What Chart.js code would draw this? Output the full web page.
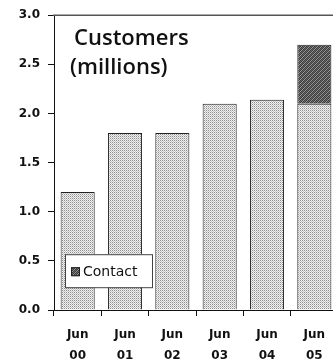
<!DOCTYPE html>
<html>
<head>
<meta charset="utf-8">
<script src="https://cdn.jsdelivr.net/npm/chart.js@4/dist/chart.umd.min.js"></script>
<style>
  html, body { margin: 0; padding: 0; background: #fff; overflow: hidden; }
  #wrap { width: 338px; height: 363px; }
</style>
</head>
<body>
<div id="wrap"><canvas id="chart" width="338" height="363"></canvas></div>
<script>
// Customers by year, millions
const years = [['Jun', '00'], ['Jun', '01'], ['Jun', '02'], ['Jun', '03'], ['Jun', '04'], ['Jun', '05']];
const baseCustomers = [1.2, 1.8, 1.8, 2.1, 2.14, 2.1];
const contactCustomers = [0, 0, 0, 0, 0, 0.6];
const yTicks = [0, 0.5, 1.0, 1.5, 2.0, 2.5, 3.0];

// light stipple fill for the main bars
function stipple() {
  const c = document.createElement('canvas');
  c.width = 2; c.height = 2;
  const g = c.getContext('2d');
  g.fillStyle = '#f0f0f0';
  g.fillRect(0, 0, 2, 2);
  g.fillStyle = '#8f8f8f';
  g.fillRect(0, 0, 1, 1);
  g.fillStyle = '#c4c4c4';
  g.fillRect(1, 1, 1, 1);
  return g.createPattern(c, 'repeat');
}

// dark diagonal hatch for the Contact segment
function hatch() {
  const c = document.createElement('canvas');
  c.width = 4; c.height = 4;
  const g = c.getContext('2d');
  g.fillStyle = '#3a3a3a';
  g.fillRect(0, 0, 4, 4);
  g.fillStyle = '#9a9a9a';
  for (let i = 0; i < 4; i++) g.fillRect(3 - i, i, 1, 1);
  g.fillStyle = '#6a6a6a';
  for (let i = 0; i < 4; i++) g.fillRect((5 - i) % 4, i, 1, 1);
  return g.createPattern(c, 'repeat');
}

const hatchFill = hatch();

// title and legend box drawn inside the plot
const overlay = {
  id: 'overlay',
  afterDraw(chart) {
    const ctx = chart.ctx;
    const a = chart.chartArea;
    ctx.save();
    // top frame line
    ctx.strokeStyle = '#555';
    ctx.lineWidth = 1.5;
    ctx.beginPath();
    ctx.moveTo(a.left - 1, a.top);
    ctx.lineTo(chart.width, a.top);
    ctx.stroke();

    ctx.fillStyle = '#111';
    ctx.font = '600 22px "Open Sans", sans-serif';
    ctx.textBaseline = 'middle';
    ctx.fillText('Customers', a.left + 20, a.top + 24);
    ctx.fillText('(millions)', a.left + 16, a.top + 53);

    // legend
    const lx = a.left + 11, ly = a.top + 239;
    ctx.fillStyle = '#fff';
    ctx.fillRect(lx, ly, 87, 33);
    ctx.strokeStyle = '#444';
    ctx.lineWidth = 1;
    ctx.strokeRect(lx + 0.5, ly + 0.5, 87, 33);
    ctx.fillStyle = hatchFill;
    ctx.fillRect(lx + 6, ly + 13, 9, 9);
    ctx.strokeStyle = '#222';
    ctx.strokeRect(lx + 6.5, ly + 13.5, 8, 8);
    ctx.fillStyle = '#111';
    ctx.font = '14px "DejaVu Sans", sans-serif';
    ctx.fillText('Contact', lx + 18, ly + 18);
    ctx.restore();
  }
};

new Chart(document.getElementById('chart').getContext('2d'), {
  type: 'bar',
  data: {
    labels: years,
    datasets: [
      {
        label: 'Customers',
        data: baseCustomers,
        backgroundColor: stipple(),
        borderColor: '#222',
        borderWidth: 1,
        borderSkipped: 'bottom'
      },
      {
        label: 'Contact',
        data: contactCustomers,
        backgroundColor: hatchFill,
        borderColor: '#222',
        borderWidth: 1,
        borderSkipped: 'bottom'
      }
    ]
  },
  options: {
    responsive: false,
    animation: false,
    layout: { padding: { top: 14, right: 0, left: 0, bottom: 0 } },
    plugins: {
      legend: { display: false },
      tooltip: { enabled: false }
    },
    scales: {
      x: {
        stacked: true,
        categoryPercentage: 1,
        barPercentage: 0.61,
        border: { color: '#111', width: 1 },
        grid: { offset: true, drawOnChartArea: false, tickLength: 6, color: '#111' },
        ticks: {
          color: '#111',
          font: { family: 'DejaVu Sans', size: 12, weight: 'bold', lineHeight: 1.75 },
          padding: 8,
          maxRotation: 0
        },
        afterFit(s) { s.height = 53; }
      },
      y: {
        stacked: true,
        min: 0,
        max: 3,
        afterBuildTicks(s) { s.ticks = yTicks.map(v => ({ value: v })); },
        border: { color: '#111', width: 1 },
        grid: { drawOnChartArea: false, tickLength: 6, color: '#111' },
        ticks: {
          color: '#111',
          font: { family: 'DejaVu Sans', size: 12, weight: 'bold' },
          padding: 8,
          callback: v => v.toFixed(1)
        },
        afterFit(s) { s.width = 54; }
      }
    }
  },
  plugins: [overlay]
});
</script>
</body>
</html>
